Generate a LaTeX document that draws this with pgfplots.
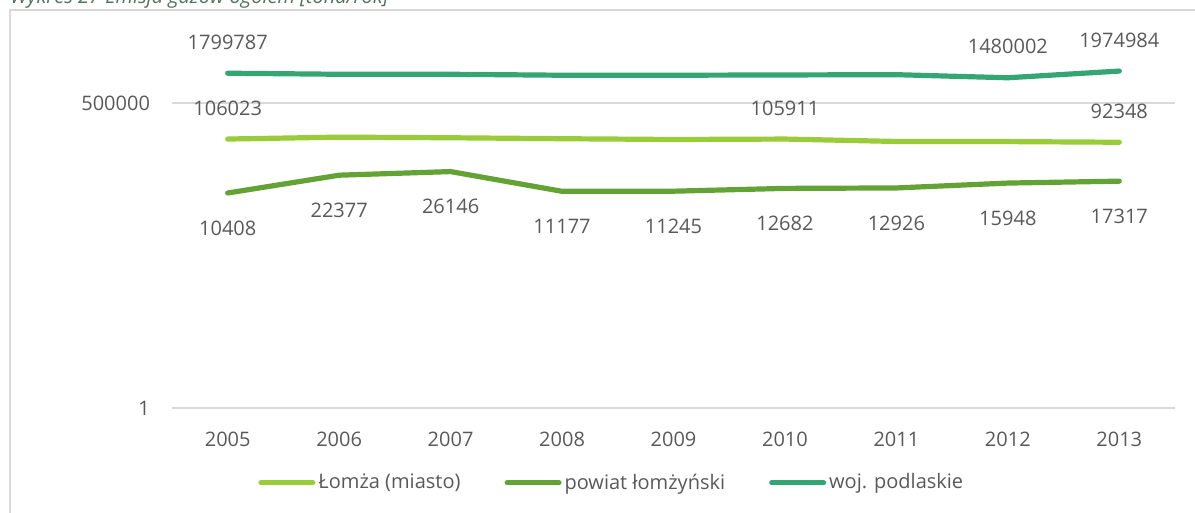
\documentclass[border=0pt]{standalone}
\usepackage{fontspec}
\setmainfont{Open Sans}
\usepackage{pgfplots}
\pgfplotsset{compat=1.18}
\usepackage{pgfplotstable}
\definecolor{lomza}{RGB}{154,203,57}
\definecolor{powiat}{RGB}{99,163,53}
\definecolor{woj}{RGB}{53,166,115}
\definecolor{txt}{RGB}{89,89,89}
\definecolor{gridc}{RGB}{217,217,217}
\definecolor{titlec}{RGB}{84,112,96}

\pgfplotstableread{
year val lab
2005 106023 106023
2006 115000 {}
2007 112000 {}
2008 107500 {}
2009 104000 {}
2010 105911 105911
2011 95500 {}
2012 95000 {}
2013 92348 92348
}\lomza

\pgfplotstableread{
year val lab
2005 10408 10408
2006 22377 22377
2007 26146 26146
2008 11177 11177
2009 11245 11245
2010 12682 12682
2011 12926 12926
2012 15948 15948
2013 17317 17317
}\powiat

\pgfplotstableread{
year val lab
2005 1799787 1799787
2006 1720000 {}
2007 1720000 {}
2008 1650000 {}
2009 1650000 {}
2010 1670000 {}
2011 1690000 {}
2012 1480002 1480002
2013 1974984 1974984
}\woj

\begin{document}
\begin{tikzpicture}
\useasboundingbox (0pt,0pt) rectangle (597.5pt,256.5pt);
\node[anchor=base west, font=\itshape, text=titlec, inner sep=0] at (5pt,254.5pt) {Wykres 27 Emisja gazów ogółem [tona/rok]};
\draw[gridc, line width=0.9pt] (5pt,-5pt) -- (5pt,251.5pt) -- (605pt,251.5pt);
\begin{axis}[
  at={(86pt,52.5pt)}, anchor=south west,
  scale only axis, width=501.5pt, height=194pt,
  ymode=log, ymin=1, ymax=1.777e7,
  xmin=2004.5, xmax=2013.5,
  xtick={2005,2006,2007,2008,2009,2010,2011,2012,2013},
  xticklabels={2005,2006,2007,2008,2009,2010,2011,2012,2013},
  ytick={1,500000}, yticklabels={1,500000},
  axis line style={draw=none},
  major tick length=0pt,
  ymajorgrids, grid style={gridc, line width=0.9pt},
  tick label style={text=txt, font=\fontsize{10}{12}\selectfont},
  xticklabel style={yshift=-8.5pt},
  yticklabel style={xshift=-7.5pt},
  clip=false,
  legend columns=3,
  legend style={at={(axis description cs:0.439,-0.193)}, anchor=center,
    draw=none, fill=none, text=txt, font=\fontsize{10}{12}\selectfont,
    nodes={inner sep=1.5pt},
    /tikz/every even column/.append style={column sep=20.5pt}},
  legend image code/.code={\draw[#1, line width=2.5pt, line cap=round] (0pt,0pt) -- (26pt,0pt);},
]
\addplot[lomza, line width=2.6pt, line cap=round, line join=round, mark=none,
  nodes near coords, point meta=explicit symbolic,
  every node near coord/.style={anchor=center, yshift=15.5pt, text=txt, font=\fontsize{10}{12}\selectfont}]
  table[x=year, y=val, meta=lab] {\lomza};
\addplot[powiat, line width=2.6pt, line cap=round, line join=round, mark=none,
  nodes near coords, point meta=explicit symbolic,
  every node near coord/.style={anchor=center, yshift=-17.5pt, text=txt, font=\fontsize{10}{12}\selectfont}]
  table[x=year, y=val, meta=lab] {\powiat};
\addplot[woj, line width=2.6pt, line cap=round, line join=round, mark=none,
  nodes near coords, point meta=explicit symbolic,
  every node near coord/.style={anchor=center, yshift=15.5pt, text=txt, font=\fontsize{10}{12}\selectfont}]
  table[x=year, y=val, meta=lab] {\woj};
\legend{Łomża (miasto), powiat łomżyński, woj. podlaskie}
\end{axis}
\end{tikzpicture}
\end{document}
